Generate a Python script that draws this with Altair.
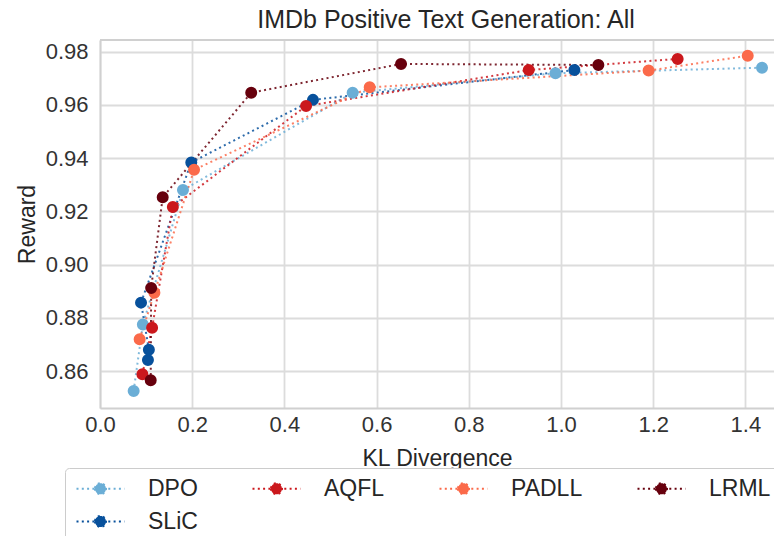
import altair as alt
import pandas as pd

# ---- data ----
methods_legend = ["DPO", "AQFL", "PADLL", "LRML", "SLiC"]
colors_legend = ["#6baed6", "#cb181d", "#fb6a4a", "#67000d", "#08519c"]

draw_order = ["DPO", "SLiC", "AQFL", "PADLL", "LRML"]

dpo_kl = [0.073, 0.093, 0.180, 0.548, 0.988, 1.436]
dpo_reward = [0.8525, 0.8775, 0.9280, 0.9646, 0.9719, 0.9740]

slic_kl = [0.104, 0.106, 0.089, 0.198, 0.462, 1.029]
slic_reward = [0.8641, 0.8680, 0.8857, 0.9384, 0.9619, 0.9731]

aqfl_kl = [0.092, 0.113, 0.158, 0.447, 0.930, 1.253]
aqfl_reward = [0.8588, 0.8763, 0.9216, 0.9596, 0.9731, 0.9773]

padll_kl = [0.086, 0.118, 0.204, 0.585, 1.190, 1.405]
padll_reward = [0.8719, 0.8894, 0.9356, 0.9666, 0.9729, 0.9785]

lrml_kl = [0.110, 0.111, 0.136, 0.328, 0.653, 1.081]
lrml_reward = [0.8565, 0.8912, 0.9253, 0.9646, 0.9754, 0.9750]

x_ticks = [0.0, 0.2, 0.4, 0.6, 0.8, 1.0, 1.2, 1.4]
y_ticks = [0.86, 0.88, 0.90, 0.92, 0.94, 0.96, 0.98]

series = {
    "DPO": (dpo_kl, dpo_reward),
    "SLiC": (slic_kl, slic_reward),
    "AQFL": (aqfl_kl, aqfl_reward),
    "PADLL": (padll_kl, padll_reward),
    "LRML": (lrml_kl, lrml_reward),
}

rows = []
for m in draw_order:
    kl, rw = series[m]
    for i, (a, b) in enumerate(zip(kl, rw)):
        rows.append({"method": m, "kl": a, "reward": b, "step": i})
df = pd.DataFrame(rows)

FONT = "Liberation Sans"
W, H = 674, 368

x_enc = alt.X(
    "kl:Q",
    scale=alt.Scale(domain=[0.0, 1.462], nice=False, zero=False),
    axis=alt.Axis(values=x_ticks, format=".1f", title="KL Divergence", labelFlush=False),
)
y_enc = alt.Y(
    "reward:Q",
    scale=alt.Scale(domain=[0.8461, 0.9844], nice=False, zero=False),
    axis=alt.Axis(values=y_ticks, format=".2f", title="Reward", labelFlush=False),
)

symbol_path = (
    "M-1.125,0L4.875,0"
    "M1.1875,0A0.6875,0.6875,0,1,0,2.5625,0A0.6875,0.6875,0,1,0,1.1875,0Z"
)

legend = alt.Legend(
    title=None,
    orient="none",
    legendX=-35,
    legendY=428,
    columns=4,
    direction="horizontal",
    symbolType=symbol_path,
    symbolSize=256,
    symbolStrokeWidth=2,
    symbolDash=[2, 3.3],
    symbolOpacity=1,
    labelOffset=51,
    labelFont=FONT,
    labelFontSize=23,
    labelColor="#262626",
    columnPadding=50,
    rowPadding=9,
    padding=9,
    strokeColor="#cccccc",
    cornerRadius=4,
    fillColor="white",
    labelExpr="datum.label == 'LRML' ? 'LRML     ' : datum.label",
)

color_scale = alt.Scale(domain=methods_legend, range=colors_legend)

lines = alt.Chart(df).mark_line(strokeDash=[2, 3.3], strokeWidth=2, opacity=0.85).encode(
    x=x_enc,
    y=y_enc,
    stroke=alt.Stroke("method:N", scale=color_scale, legend=legend),
    order=alt.Order("step:Q"),
)

points = alt.Chart(df).mark_circle(size=100, opacity=1).encode(
    x=x_enc,
    y=y_enc,
    fill=alt.Fill("method:N", scale=color_scale, legend=legend),
    stroke=alt.Stroke("method:N", scale=color_scale, legend=legend),
)

frame_top = alt.Chart(pd.DataFrame({"k": [0]})).mark_rule(
    color="#d0d0d0", strokeWidth=1.8
).encode(x=alt.value(0), x2=alt.value(W), y=alt.value(0))

chart = (
    alt.layer(frame_top, lines, points)
    .properties(
        width=W,
        height=H,
        title=alt.TitleParams(
            "IMDb Positive Text Generation: All",
            font=FONT,
            fontSize=25,
            fontWeight="normal",
            color="#262626",
            anchor="middle",
            dx=9,
            offset=6,
        ),
        autosize=alt.AutoSizeParams(type="none"),
        padding={"left": 92, "top": 32, "right": 0, "bottom": 128},
    )
    .configure_view(stroke=None)
    .configure_axis(
        labelFont=FONT,
        labelFontSize=22,
        labelColor="#333333",
        titleFont=FONT,
        titleFontSize=23,
        titleFontWeight="normal",
        titleColor="#262626",
        gridColor="#dcdcdc",
        gridWidth=1.8,
        domainColor="#d0d0d0",
        domainWidth=1.8,
        ticks=False,
    )
    .configure_axisX(labelPadding=6, titlePadding=12)
    .configure_axisY(labelPadding=12, titlePadding=6)
)

chart.save("out.html", embed_options={"renderer": "svg", "actions": False})
